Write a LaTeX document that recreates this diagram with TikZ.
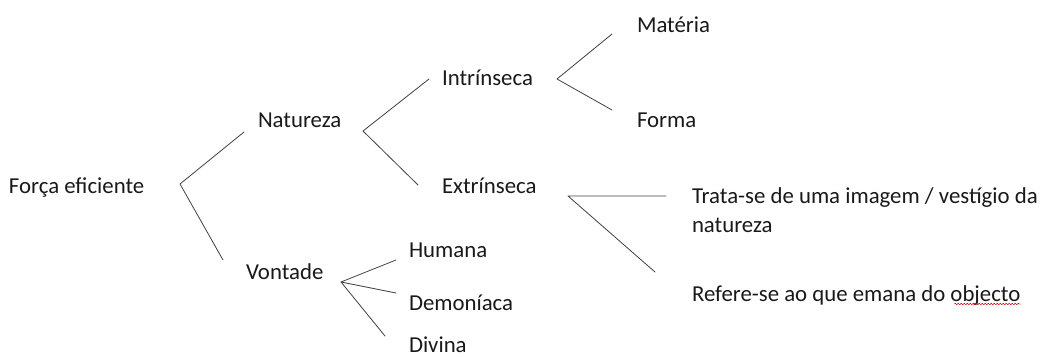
\documentclass[tikz,border=0pt]{standalone}
\usepackage{fontspec}
\setmainfont{Carlito}
\usetikzlibrary{calc,decorations.pathmorphing}
\tikzset{
  lbl/.style={anchor=base west, inner sep=0pt, outer sep=0pt, text=black!90,
    font=\fontsize{22.8}{29}\selectfont},
  brace/.style={draw=black!75, line width=0.8pt},
}
\begin{document}
\begin{tikzpicture}
% pixel-like units, y grows downwards
\begin{scope}[x=1pt, y=-1pt, line cap=round, line join=round]
  \useasboundingbox (0,0) rectangle (1043,356);
  % Labels
  \node[lbl] (forca) at (9,193) {Força eficiente};
  \node[lbl] (natureza) at (258,127) {Natureza};
  \node[lbl] (vontade) at (246,279) {Vontade};
  \node[lbl] (intr) at (442,85) {Intrínseca};
  \node[lbl] (extr) at (442,193) {Extrínseca};
  \node[lbl] (materia) at (637,32) {Matéria};
  \node[lbl] (forma) at (637,127) {Forma};
  % base of a two-line node is its last line
  \node[lbl, align=left] (trata) at (692,232) {Trata-se de uma imagem / vestígio da\\natureza};
  \node[lbl] (refere) at (692,301) {Refere-se ao que emana do objecto};
  \node[lbl] (humana) at (409,257) {Humana};
  \node[lbl] (demon) at (409,310) {Demoníaca};
  \node[lbl] (divina) at (409,352) {Divina};
  % Fork points
  \coordinate (fForca) at (180,184);
  \coordinate (fNatureza) at (363,131);
  \coordinate (fVontade) at (341,282);
  \coordinate (fIntr) at (557,79);
  \coordinate (fExtr) at (568,196);
  % Branches
  \begin{scope}[brace]
    \draw ($(natureza.base west)+(-14,5)$) -- (fForca) -- ($(vontade.base west)+(-23,-19)$);
    \draw ($(intr.base west)+(-13,-6)$) -- (fNatureza) -- ($(extr.base west)+(-24,-8)$);
    \draw ($(materia.base west)+(-25,2)$) -- (fIntr) -- ($(forma.base west)+(-25,-17)$);
    \draw ($(trata.base west)+(-26,-36)$) -- (fExtr) -- ($(refere.base west)+(-37,-29)$);
    \draw ($(humana.base west)+(-13,3)$) -- (fVontade) -- ($(demon.base west)+(-13,-17)$);
    \draw (fVontade) -- ($(divina.base west)+(-24,-16)$);
  \end{scope}
  % Spell-check squiggle
  \draw[red!80!black, line width=0.5pt, decorate,
    decoration={snake, segment length=3pt, amplitude=0.8pt}]
    ($(refere.base east)+(-66,3)$) -- ($(refere.base east)+(0,3)$);
\end{scope}
\end{tikzpicture}
\end{document}
